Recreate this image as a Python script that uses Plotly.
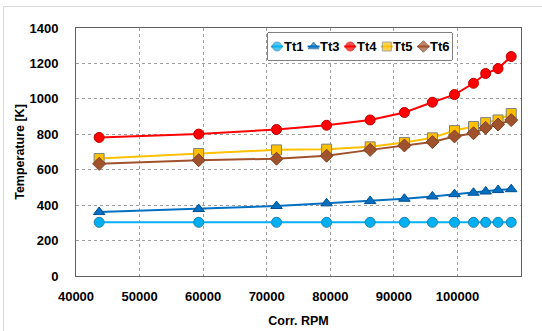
import plotly.graph_objects as go

rpm = [43640, 59300, 71540, 79420, 86270, 91660, 96060, 99540, 102530, 104440, 106390, 108460]
tt1 = [303, 303, 303, 303, 303, 303, 303, 303, 303, 303, 303, 303]
tt3 = [361, 378, 395, 410, 423, 436, 449, 462, 470, 477, 485, 490]
tt4 = [782, 801, 827, 851, 881, 923, 981, 1024, 1088, 1143, 1171, 1239]
tt5 = [663, 692, 712, 716, 729, 754, 780, 821, 844, 866, 881, 917]
tt6 = [633, 654, 662, 679, 712, 737, 756, 788, 806, 836, 855, 880]

names = ["Tt1", "Tt3", "Tt4", "Tt5", "Tt6"]
values = [tt1, tt3, tt4, tt5, tt6]
colors = ["#00B0F0", "#0070C0", "#FF0000", "#FFC000", "#A0522D"]
symbols = ["circle", "triangle-up", "circle", "square", "diamond"]
edges = ["#2080B0", "#004E90", "#C00000", "#808080", "#7F4020"]

font = "Liberation Sans"
W, H = 542, 331
L, R, T, B = 76, 21, 28, 55
PW, PH = W - L - R, H - T - B

fig = go.Figure()
for name, ys, col, sym, ecol in zip(names, values, colors, symbols, edges):
    fig.add_trace(go.Scatter(
        x=rpm, y=ys, name=name, mode="lines+markers", showlegend=False,
        line=dict(color=col, width=2),
        marker=dict(symbol=sym, size=10, color=col, line=dict(color=ecol, width=1)),
    ))

# compact legend box (layout only) drawn on an overlay axis
box_l, box_r, box_t, box_b = 268, 452, 33, 60
step = 36.6
for i, (name, col, sym, ecol) in enumerate(zip(names, colors, symbols, edges)):
    cx = 9 + step * i
    fig.add_trace(go.Scatter(
        x=[cx - 6, cx, cx + 6], y=[0.5, 0.5, 0.5], mode="lines+markers",
        xaxis="x2", yaxis="y2", showlegend=False, hoverinfo="skip",
        line=dict(color=col, width=2),
        marker=dict(symbol=sym, size=[0, 9, 0], color=col, line=dict(color=ecol, width=[0, 1, 0])),
    ))
    fig.add_annotation(x=cx + 4.5, y=0.5, xref="x2", yref="y2", text="<b>%s</b>" % name,
                       showarrow=False, xanchor="left", yanchor="middle",
                       font=dict(family=font, size=13, color="black"))

fig.add_shape(type="rect", xref="paper", yref="paper",
              x0=(box_l - L) / PW, x1=(box_r - L) / PW,
              y0=(H - B - box_b) / PH, y1=(H - B - box_t) / PH,
              line=dict(color="black", width=1), fillcolor="white", layer="between")

fig.update_layout(
    width=W, height=H,
    margin=dict(l=L, r=R, t=T, b=B),
    paper_bgcolor="white", plot_bgcolor="white",
    font=dict(family=font, size=13, color="black"),
    showlegend=False,
    xaxis=dict(
        range=[40000, 110000], dtick=10000, tick0=40000, tickformat="d",
        showgrid=True, gridcolor="#A0A0A0", griddash="dot", gridwidth=1,
        showline=True, linecolor="#606060", linewidth=1, mirror=True,
        ticks="", zeroline=False, ticklabelstandoff=8, automargin=False,
        tickfont=dict(family=font, size=13, weight="bold"),
        title=dict(text="Corr. RPM", font=dict(family=font, size=12.5, weight="bold"), standoff=13),
    ),
    yaxis=dict(
        range=[0, 1400], dtick=200,
        showgrid=True, gridcolor="#A0A0A0", griddash="dot", gridwidth=1,
        showline=True, linecolor="#606060", linewidth=1, mirror=True,
        ticks="", zeroline=False, ticklabelstandoff=14, automargin=False,
        tickfont=dict(family=font, size=13, weight="bold"),
        title=dict(text="Temperature [K]", font=dict(family=font, size=12.5, weight="bold"), standoff=2),
    ),
    xaxis2=dict(domain=[(box_l - L) / PW, (box_r - L) / PW], range=[0, box_r - box_l], visible=False,
                anchor="y2", fixedrange=True, automargin=False),
    yaxis2=dict(domain=[(H - B - box_b) / PH, (H - B - box_t) / PH], range=[0, 1], visible=False,
                anchor="x2", fixedrange=True, automargin=False),
)

# light outer chart-area frame
fig.add_shape(type="rect", xref="paper", yref="paper",
              x0=(3.5 - L) / PW, x1=(W + 5 - L) / PW, y0=(H - B - (H + 5)) / PH, y1=(H - B - 6.5) / PH,
              line=dict(color="#D9D9D9", width=1), fillcolor="rgba(0,0,0,0)", layer="below")

fig.write_html("out.html", config={"displayModeBar": False},
               post_script="document.body.style.margin='0px';")
